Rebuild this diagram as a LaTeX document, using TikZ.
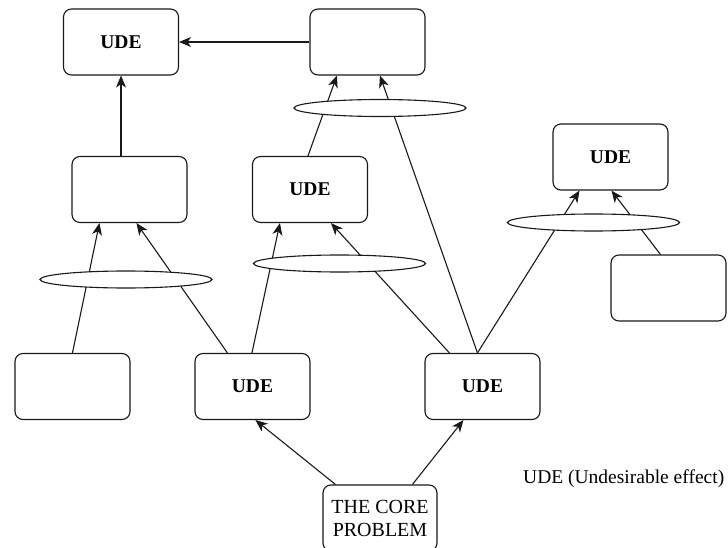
\documentclass[tikz,border=0pt]{standalone}
\usepackage{fontspec}
\setmainfont{Liberation Serif}
\usetikzlibrary{arrows.meta,shapes.geometric}
\pgfdeclarelayer{background}
\pgfsetlayers{background,main}
\begin{document}
\begin{tikzpicture}[x=1pt,y=-1pt,
  box/.style={draw=black!90,line width=1.1pt,fill=white,rounded corners=8pt,
    minimum width=115pt,minimum height=66pt,inner sep=0pt,
    font=\fontsize{19.5}{23}\selectfont\bfseries},
  corebox/.style={box,minimum width=114pt,align=center,
    font=\fontsize{20}{23}\selectfont},
  link/.style={draw=black!90,line width=1.1pt,fill=white,ellipse,
    minimum width=172pt,minimum height=17pt,inner sep=0pt},
  conn/.style={draw=black!90,line width=1.1pt},
  arr/.style={conn,-{Stealth[length=12pt,width=10pt,inset=3.5pt]}}]
\useasboundingbox (0,0) rectangle (728,548);

% effect boxes
\node[box] (B1) at (121,42) {UDE};
\node[box] (B2) at (367.5,42) {};
\node[box] (B3) at (129.5,189.5) {};
\node[box] (B4) at (310,189.5) {UDE};
\node[box] (B5) at (610.5,157) {UDE};
\node[box] (B6) at (252.5,386.5) {UDE};
\node[box] (B7) at (482.5,386.5) {UDE};
\node[box] (B8) at (668.5,288) {};
\node[box] (B9) at (72.5,386.5) {};
\node[corebox] (C) at (380,518) {THE CORE\\PROBLEM};

% "and" ellipses joining pairs of causes
\node[link] (E1) at (380,108) {};
\node[link] (E2) at (126,279.5) {};
\node[link] (E3) at (339.5,263.5) {};
\node[link] (E4) at (593.5,222.5) {};

% legend
\node[anchor=base west,inner sep=0pt,font=\fontsize{19.5}{23}\selectfont]
  (legend) at (523,483) {UDE (Undesirable effect)};

% cause-effect connectors, kept behind the ellipses
\begin{pgfonlayer}{background}
\draw[arr] (B2.west) -- (B1.east);
\draw[arr] (B1.south |- B3.north) -- (B1.south);
\draw[arr] ([xshift=56pt]B4.north west) -- ([xshift=27.5pt]B2.south west);
\draw[arr] ([xshift=53pt]B7.north west) -- ([xshift=70.5pt]B2.south west);
\draw[arr] ([xshift=58pt]B9.north west) -- ([xshift=28pt]B3.south west);
\draw[arr] ([xshift=33pt]B6.north west) -- ([xshift=65pt]B3.south west);
\draw[arr] ([xshift=57.5pt]B6.north west) -- ([xshift=28pt]B4.south west);
\draw[arr] ([xshift=25pt]B7.north west) -- ([xshift=79pt]B4.south west);
\draw[arr] ([xshift=53pt]B7.north west) -- ([xshift=27pt]B5.south west);
\draw[arr] ([xshift=50pt]B8.north west) -- ([xshift=59pt]B5.south west);
\draw[arr] ([xshift=13pt]C.north west) -- ([xshift=61pt]B6.south west);
\draw[arr] ([xshift=90pt]C.north west) -- ([xshift=39pt]B7.south west);
\end{pgfonlayer}
\end{tikzpicture}
\end{document}
